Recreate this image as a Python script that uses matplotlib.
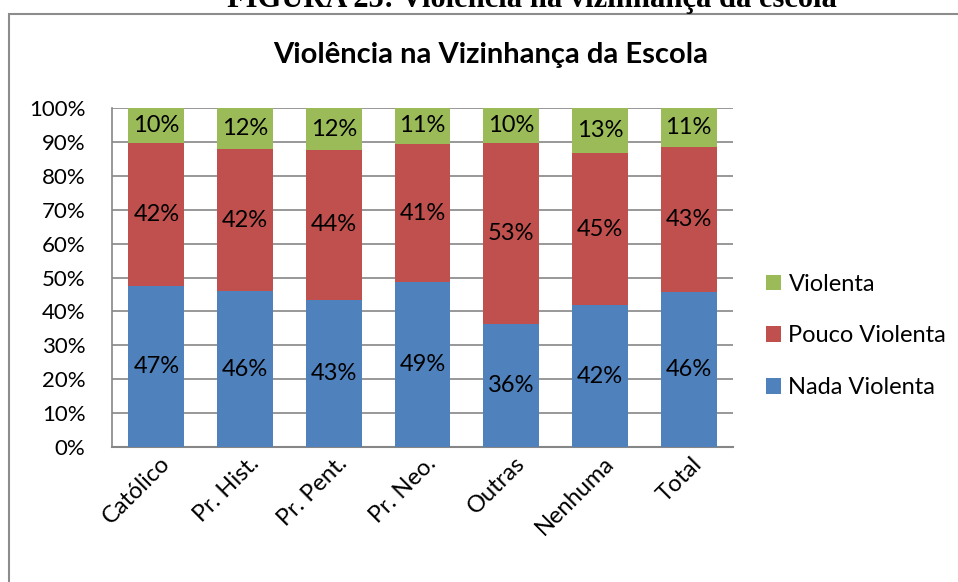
import numpy as np
import matplotlib.pyplot as plt
from matplotlib.patches import Rectangle
from matplotlib.transforms import ScaledTranslation

plt.rcParams['font.family'] = ['Lato', 'DejaVu Sans']

# Data
categorias = ["Católico", "Pr. Hist.", "Pr. Pent.", "Pr. Neo.", "Outras", "Nenhuma", "Total"]
nada = [47.4, 45.9, 43.4, 48.6, 36.4, 41.8, 45.8]
pouco = [42.2, 42.1, 44.2, 40.8, 53.4, 44.8, 42.8]
violenta = [10.4, 12.0, 12.4, 10.6, 10.2, 13.4, 11.4]
yticks = np.arange(0, 101, 10)

cor_nada = '#4F81BD'
cor_pouco = '#C0504D'
cor_viol = '#9BBB59'

W, H = 958, 582
fig = plt.figure(figsize=(W/100, H/100), dpi=100)

# caption cut off at the top of the page
fig.text(532/W, 1 - 7/H, "FIGURA 25: Violência na vizinhança da escola", ha='center', va='baseline',
         fontsize=22, fontweight='bold', family='Liberation Serif')

# chart frame
fig.patches.append(Rectangle((9/W, -0.1), 1.1, 1 - 14/H + 0.1, transform=fig.transFigure,
                             fill=False, edgecolor='#8C8C8C', linewidth=1.5))

fig.text(491/W, 1 - 55/H, "Violência na Vizinhança da Escola", ha='center', va='center',
         fontsize=21, fontweight='bold')

ax = fig.add_axes([112/W, (H - 447)/H, 621/W, 339/H])
x = np.arange(len(categorias))
bw = 0.63
b1 = ax.bar(x, nada, bw, color=cor_nada, label='Nada Violenta', zorder=3)
b2 = ax.bar(x, pouco, bw, bottom=nada, color=cor_pouco, label='Pouco Violenta', zorder=3)
base3 = np.array(nada) + np.array(pouco)
b3 = ax.bar(x, violenta, bw, bottom=base3, color=cor_viol, label='Violenta', zorder=3)

for bars, vals, bottoms in [(b1, nada, np.zeros(len(x))), (b2, pouco, np.array(nada)), (b3, violenta, base3)]:
    for xi, v, b in zip(x, vals, bottoms):
        ax.text(xi, b + v/2, f"{v:.0f}%", ha='center', va='center', fontsize=17, zorder=4)

ax.set_xlim(-0.5, len(x) - 0.5)
ax.set_ylim(0, 100)
ax.set_yticks(yticks)
ax.set_yticklabels([f"{t}%" for t in yticks], fontsize=16)
ax.set_xticks(x)
ax.tick_params(length=0, labelbottom=False)
ax.tick_params(axis='y', pad=19)

# rotated category labels, shifted like the original
off = ScaledTranslation(3/100, -6/100, fig.dpi_scale_trans)
for xi, cat in zip(x, categorias):
    ax.text(xi, 0, cat, transform=ax.get_xaxis_transform() + off, rotation=45,
            ha='right', va='top', rotation_mode='anchor', fontsize=17)

ax.yaxis.grid(True, color='#868686', linewidth=1.2, zorder=0)
for s in ['top', 'right']:
    ax.spines[s].set_visible(False)
ax.spines['left'].set_color('#868686')
ax.spines['bottom'].set_color('#868686')
ax.spines['left'].set_linewidth(1.2)
ax.spines['bottom'].set_linewidth(1.5)

h, l = ax.get_legend_handles_labels()
fig.legend(h[::-1], l[::-1], loc='center left', bbox_to_anchor=(766/W, 1 - 336/H), frameon=False,
           fontsize=17, handlelength=0.65, handleheight=0.65, handletextpad=0.3, labelspacing=1.3,
           borderaxespad=0, borderpad=0)

fig.savefig('out.png', dpi=100)
